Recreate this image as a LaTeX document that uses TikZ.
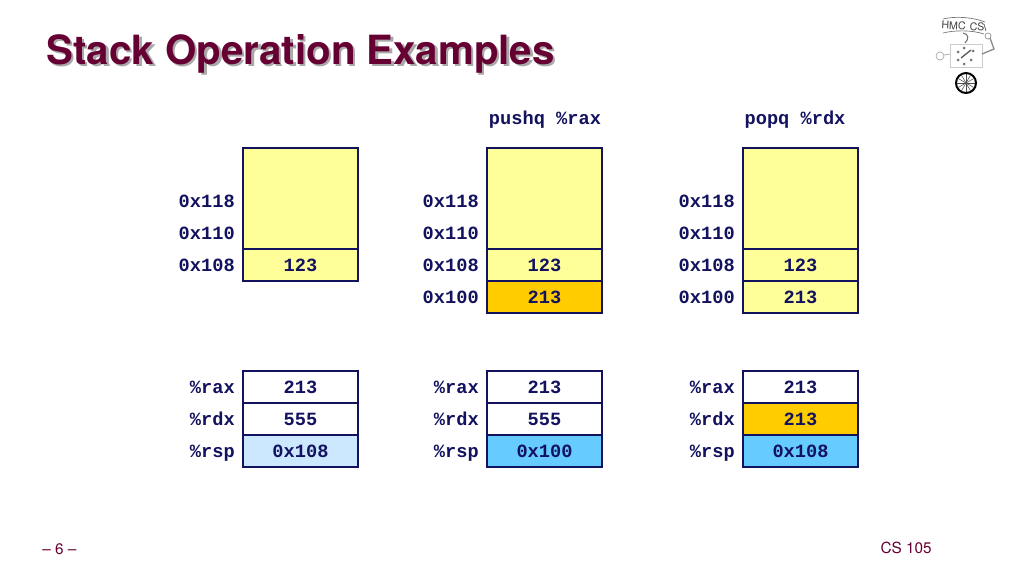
\documentclass[tikz,border=0pt]{standalone}
\usepackage{fontspec}
\setmainfont{TeX Gyre Heros}
\newfontfamily\codefont{Liberation Mono}[BoldFont={Liberation Mono Bold}]
\definecolor{navy}{HTML}{12125F}
\definecolor{stackyellow}{HTML}{FFFF99}
\definecolor{changed}{HTML}{FFCC00}
\definecolor{rsppale}{HTML}{CCE8FF}
\definecolor{rspblue}{HTML}{66CCFF}
\definecolor{titlered}{HTML}{660033}
\definecolor{titleshadow}{HTML}{A9A9A9}
\tikzset{
  x=0.75pt,y=-0.75pt,
  code/.style={font=\codefont\bfseries\fontsize{14}{16}\selectfont,text=navy,text height=10.8pt,text depth=1.5pt},
  cell/.style={draw=navy,line width=1.5pt,minimum width=86.25pt,minimum height=24pt,inner sep=0pt,outer sep=0pt,anchor=north west,code},
  blank/.style={cell,fill=stackyellow,minimum height=76.5pt},
  mem/.style={cell,fill=stackyellow},
  hot/.style={cell,fill=changed},
  reg/.style={cell,fill=white},
  rsplight/.style={cell,fill=rsppale},
  rspdark/.style={cell,fill=rspblue},
  lab/.style={anchor=east,inner sep=0pt,code},
  head/.style={anchor=center,inner sep=0pt,code},
  titletext/.style={anchor=west,inner sep=0pt,font=\bfseries\fontsize{30.2}{34}\selectfont},
  foot/.style={inner sep=0pt,font=\fontsize{11.5}{13}\selectfont,text=titlered},
  logo/.style={draw=black!55,line width=0.5pt}
}
\begin{document}
\begin{tikzpicture}
\useasboundingbox (0,0) rectangle (1024,576);
% title
\node[titletext,text=titleshadow] (titleshade) at (48.5,56) {Stack Operation Examples};
\node[titletext,text=titlered] (title) at (46,54) {Stack Operation Examples};
% headers
\node[head] (h2) at (545,118) {pushq \%rax};
\node[head] (h3) at (795,118) {popq \%rdx};
% column 1
\node[blank] (a0) at (243,148) {};
\node[mem] (a1) at (243,249) {123};
\node[lab] (la118) at (235,201) {0x118};
\node[lab] (la110) at (235,233) {0x110};
\node[lab] (la108) at (235,265) {0x108};
\node[reg] (ra) at (243,371) {213};
\node[reg] (rb) at (243,403) {555};
\node[rsplight] (rc) at (243,435) {0x108};
\node[lab] (lra) at (235,387) {\%rax};
\node[lab] (lrb) at (235,419) {\%rdx};
\node[lab] (lrc) at (235,451) {\%rsp};
% column 2
\node[blank] (b0) at (487,148) {};
\node[mem] (b1) at (487,249) {123};
\node[hot] (b2) at (487,281) {213};
\node[lab] (lb118) at (479,201) {0x118};
\node[lab] (lb110) at (479,233) {0x110};
\node[lab] (lb108) at (479,265) {0x108};
\node[lab] (lb100) at (479,297) {0x100};
\node[reg] (sa) at (487,371) {213};
\node[reg] (sb) at (487,403) {555};
\node[rspdark] (sc) at (487,435) {0x100};
\node[lab] (lsa) at (479,387) {\%rax};
\node[lab] (lsb) at (479,419) {\%rdx};
\node[lab] (lsc) at (479,451) {\%rsp};
% column 3
\node[blank] (c0) at (743,148) {};
\node[mem] (c1) at (743,249) {123};
\node[mem] (c2) at (743,281) {213};
\node[lab] (lc118) at (735,201) {0x118};
\node[lab] (lc110) at (735,233) {0x110};
\node[lab] (lc108) at (735,265) {0x108};
\node[lab] (lc100) at (735,297) {0x100};
\node[reg] (ta) at (743,371) {213};
\node[hot] (tb) at (743,403) {213};
\node[rspdark] (tc) at (743,435) {0x108};
\node[lab] (lta) at (735,387) {\%rax};
\node[lab] (ltb) at (735,419) {\%rdx};
\node[lab] (ltc) at (735,451) {\%rsp};
% footer
\node[foot,anchor=west] (page) at (42,549) {– 6 –};
\node[foot,anchor=east] (course) at (932,548) {CS 105};
% logo
\node[inner sep=0pt,font=\fontsize{8}{9}\selectfont,text=black!75,rotate=-3] (logotext) at (963,26) {HMC\hspace{3pt}CS};
\draw[logo] (943,19) .. controls (955,16) and (972,17) .. (985,22);
\draw[logo] (943,33) .. controls (955,30) and (972,30) .. (984,34);
\draw[logo,line width=0.7pt] (984,24) -- (986,31);
\draw[logo,line width=0.8pt] (963,33) .. controls (969,34) and (969,39) .. (965,43);
\draw[draw=black!20,fill=white,line width=0.6pt] (950,44) rectangle (982,67);
\foreach \xa/\ya in {964/48,958/52,973/51,958/60,971/60,964/64}
  \fill[black!55] (\xa,\ya) circle[radius=1.5];
\draw[black!65,line width=1pt] (961,58) -- (971,50);
\draw[logo,draw=black!35] (950,54) -- (944,55);
\draw[logo,draw=black!35] (940,56) circle[radius=4];
\draw[logo,draw=black!45,line width=1pt] (982,54) -- (994,49) -- (990,38);
\draw[logo,draw=black!45] (988,36) circle[radius=3];
\draw[black,line width=1.5pt,fill=white] (966,83) circle[radius=10];
\foreach \ang in {0,30,...,150} \draw[black!70,line width=0.4pt] (966,83) ++(\ang:9) -- ++(\ang+180:18);
\end{tikzpicture}
\end{document}
